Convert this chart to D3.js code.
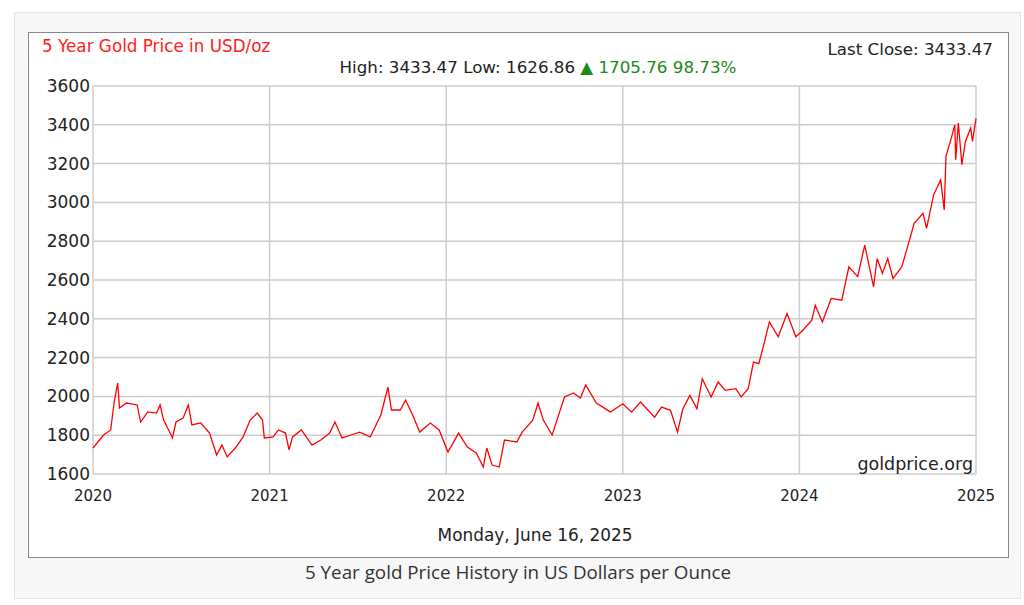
<!DOCTYPE html>
<html><head><meta charset="utf-8">
<script src="https://cdn.jsdelivr.net/npm/d3@7"></script>
<style>
body{margin:0;background:#fff;}
</style></head><body>
<svg id="chart" width="1024" height="605"></svg>
<script>
// year (decimal) and price
const years = [2020.00,2020.06,2020.10,2020.12,2020.14,2020.15,2020.19,2020.25,2020.27,2020.31,2020.36,2020.38,2020.40,2020.45,2020.47,2020.51,2020.54,2020.56,2020.61,2020.66,2020.70,2020.73,2020.76,2020.81,2020.85,2020.89,2020.93,2020.96,2020.97,
 2021.02,2021.05,2021.09,2021.11,2021.13,2021.18,2021.24,2021.29,2021.34,2021.37,2021.41,2021.46,2021.51,2021.57,2021.63,2021.67,2021.69,2021.74,2021.77,2021.81,2021.85,2021.91,2021.96,
 2022.01,2022.07,2022.12,2022.17,2022.21,2022.23,2022.26,2022.30,2022.33,2022.40,2022.43,2022.49,2022.52,2022.55,2022.60,2022.64,2022.67,2022.72,2022.76,2022.79,2022.85,2022.93,
 2023.00,2023.05,2023.10,2023.18,2023.22,2023.27,2023.31,2023.34,2023.38,2023.42,2023.45,2023.50,2023.54,2023.58,2023.64,2023.67,2023.71,2023.74,2023.77,2023.80,2023.83,2023.88,2023.93,2023.98,
 2024.02,2024.07,2024.09,2024.13,2024.18,2024.24,2024.28,2024.33,2024.37,2024.42,2024.44,2024.47,2024.50,2024.53,2024.58,2024.61,2024.65,2024.70,2024.72,2024.76,2024.80,2024.82,2024.83,2024.86,2024.88,2024.885,2024.90,2024.92,2024.94,2024.97,2024.98,2025.00];
const prices = [1734,1801,1827,1971,2069,1940,1966,1956,1868,1920,1914,1956,1878,1786,1868,1888,1956,1853,1863,1811,1698,1749,1688,1739,1791,1878,1914,1878,1786,
 1791,1827,1811,1724,1791,1827,1749,1775,1811,1868,1786,1801,1816,1791,1904,2048,1930,1930,1981,1904,1816,1863,1827,
 1713,1811,1739,1708,1636,1734,1646,1636,1775,1765,1816,1878,1966,1878,1801,1914,1997,2018,1992,2059,1966,1920,
 1962,1919,1971,1893,1945,1928,1816,1936,2005,1936,2091,1997,2074,2031,2040,1997,2040,2177,2169,2272,2384,2307,2427,2307,
 2341,2393,2470,2384,2505,2496,2668,2617,2780,2565,2711,2634,2711,2608,2668,2763,2892,2944,2866,3039,3116,2961,3237,3331,3400,3220,3409,3194,3314,3383,3314,3433];
const yTicks = [1600,1800,2000,2200,2400,2600,2800,3000,3200,3400,3600];
const xTicks = [2020,2021,2022,2023,2024,2025];

const svg = d3.select('#chart');
const m = {left:93, right:976, top:86, bottom:474};
const x = d3.scaleLinear().domain([2020,2025]).range([m.left,m.right]);
const y = d3.scaleLinear().domain([1600,3600]).range([m.bottom,m.top]);

// outer frames
svg.append('rect').attr('x',14.5).attr('y',12.5).attr('width',1006).attr('height',586)
	.attr('fill','#f7f7f7').attr('stroke','#e4e4e4');
svg.append('rect').attr('x',28.5).attr('y',32.5).attr('width',980).attr('height',525)
	.attr('fill','#fff').attr('stroke','#888');

// grid
svg.append('g').selectAll('line').data(yTicks).enter().append('line')
	.attr('x1',m.left).attr('x2',m.right).attr('y1',d=>y(d)).attr('y2',d=>y(d))
	.attr('stroke','#ccc').attr('stroke-width',1.5);
svg.append('g').selectAll('line').data(xTicks).enter().append('line')
	.attr('y1',m.top).attr('y2',m.bottom).attr('x1',d=>x(d)).attr('x2',d=>x(d))
	.attr('stroke','#ccc').attr('stroke-width',1.5);

svg.append('g').selectAll('text').data(yTicks).enter().append('text')
	.attr('x',m.left-3).attr('y',d=>y(d)+6).attr('text-anchor','end')
	.attr('font-family','DejaVu Sans').attr('font-size',17).attr('fill','#222').text(d=>d);
svg.append('g').selectAll('text').data(xTicks).enter().append('text')
	.attr('x',d=>x(d)).attr('y',m.bottom+27).attr('text-anchor','middle')
	.attr('font-family','DejaVu Sans').attr('font-size',15).attr('fill','#222').text(d=>d);

// price line
const pts = years.map((d,i)=>[d,prices[i]]);
svg.append('path').datum(pts)
	.attr('d', d3.line().x(d=>x(d[0])).y(d=>y(d[1])))
	.attr('fill','none').attr('stroke','#ff0000').attr('stroke-width',1.3);

const t = (xx,yy,s,opt={}) => svg.append('text').attr('x',xx).attr('y',yy)
	.attr('font-family',opt.f||'DejaVu Sans').attr('font-size',opt.size||16.7)
	.attr('fill',opt.fill||'#222').attr('text-anchor',opt.a||'start').text(s);

t(42,52,'5 Year Gold Price in USD/oz',{fill:'#ff2020',size:16.8});
t(993,55,'Last Close: 3433.47',{a:'end'});
const sub = svg.append('text').attr('x',538).attr('y',73).attr('text-anchor','middle')
	.attr('font-family','DejaVu Sans').attr('font-size',16.7).attr('fill','#222');
sub.append('tspan').text('High: 3433.47 Low: 1626.86 ');
sub.append('tspan').attr('fill','#1a8a1a').text('▲ 1705.76 98.73%');
t(973,470,'goldprice.org',{a:'end',size:17.5});
t(535,541,'Monday, June 16, 2025',{a:'middle',size:16.9});
t(518,579,'5 Year gold Price History in US Dollars per Ounce',{a:'middle',f:'Open Sans',size:18.8,fill:'#333'});
</script>
</body></html>
